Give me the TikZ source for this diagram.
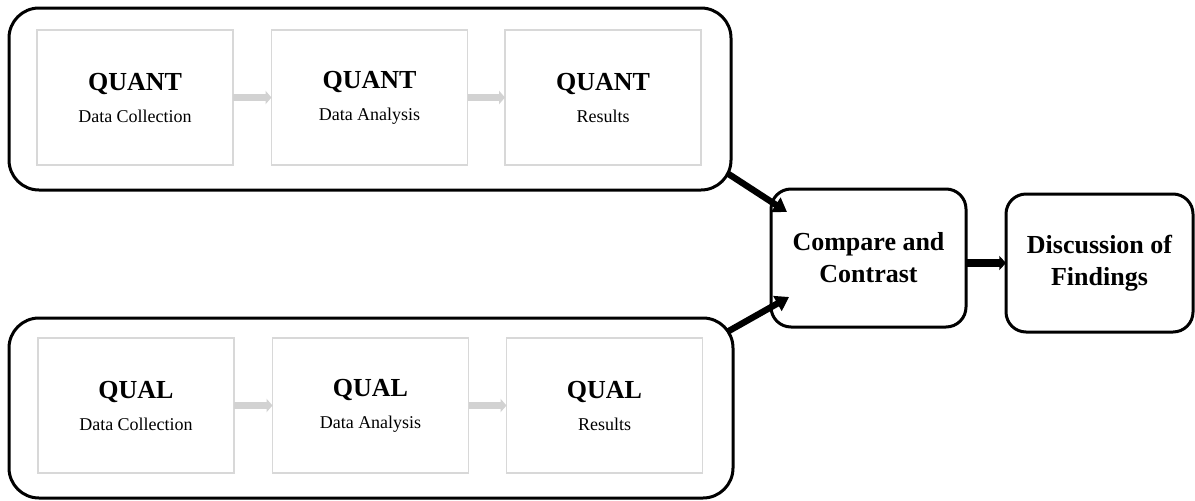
\documentclass[tikz,border=0pt]{standalone}
\usepackage{fontspec}
\setmainfont{Liberation Serif}
\usetikzlibrary{arrows.meta,calc}

\definecolor{stepline}{RGB}{216,216,216}
\definecolor{steparrow}{RGB}{210,210,210}

\newcommand{\titlefont}{\bfseries\fontsize{19.5}{24}\selectfont}
\newcommand{\subfont}{\fontsize{13.5}{24}\selectfont}

\tikzset{
  phasebox/.style={draw=black, line width=2.25pt, rounded corners=22.5pt,
    minimum width=#1, inner sep=0pt, outer sep=0pt},
  stepbox/.style={draw=stepline, line width=1pt, minimum width=147pt,
    minimum height=101.25pt, align=center, inner sep=0pt, outer sep=0pt,
    font=\subfont},
  mergebox/.style={draw=black, line width=2.25pt, rounded corners=15pt,
    minimum height=103.5pt, align=center, inner sep=0pt, outer sep=0pt,
    font=\titlefont},
  steparrowline/.style={draw=steparrow, line width=5.5pt,
    -{Triangle[length=4.5pt,width=10pt]}},
  mergearrow/.style={draw=black, line width=4.8pt,
    -{Triangle[length=10pt,width=12.5pt]}},
  finalarrow/.style={draw=black, line width=5.5pt,
    -{Triangle[length=5pt,width=10.5pt]}},
}

\begin{document}
\begin{tikzpicture}[x=0.75pt, y=-0.75pt]
  \useasboundingbox (0,0) rectangle (1195,500);

  % quantitative strand
  \node[phasebox=541.5pt, minimum height=136.5pt] (qnt) at (370,99) {};
  \node[stepbox] (qn1) at (135,97.5)   {{\titlefont QUANT}\\Data Collection};
  \node[stepbox] (qn2) at (369.5,97.5) {{\titlefont QUANT}\\Data Analysis};
  \node[stepbox] (qn3) at (603,97.5)   {{\titlefont QUANT}\\Results};
  \draw[steparrowline] (qn1.east) -- (qn2.west);
  \draw[steparrowline] (qn2.east) -- (qn3.west);

  % qualitative strand
  \node[phasebox=543pt, minimum height=135pt] (qul) at (371,408) {};
  \node[stepbox] (ql1) at (136,405.5)   {{\titlefont QUAL}\\Data Collection};
  \node[stepbox] (ql2) at (370.5,405.5) {{\titlefont QUAL}\\Data Analysis};
  \node[stepbox] (ql3) at (604.5,405.5) {{\titlefont QUAL}\\Results};
  \draw[steparrowline] (ql1.east) -- (ql2.west);
  \draw[steparrowline] (ql2.east) -- (ql3.west);

  % merging and interpretation
  \node[mergebox, minimum width=146.25pt] (cmp) at (868.5,258)
    {Compare and\\Contrast};
  \node[mergebox, minimum width=140.25pt] (dsc) at (1099.5,263)
    {Discussion of\\Findings};

  \draw[mergearrow] ($(qnt.south east)+(-4,-17)$) -- ($(cmp.north west)+(16,23)$);
  \draw[mergearrow] ($(qul.north east)+(-6,14)$) -- ($(cmp.south west)+(18,-30)$);
  \draw[finalarrow] (cmp.east |- dsc.west) -- (dsc.west);
\end{tikzpicture}
\end{document}
